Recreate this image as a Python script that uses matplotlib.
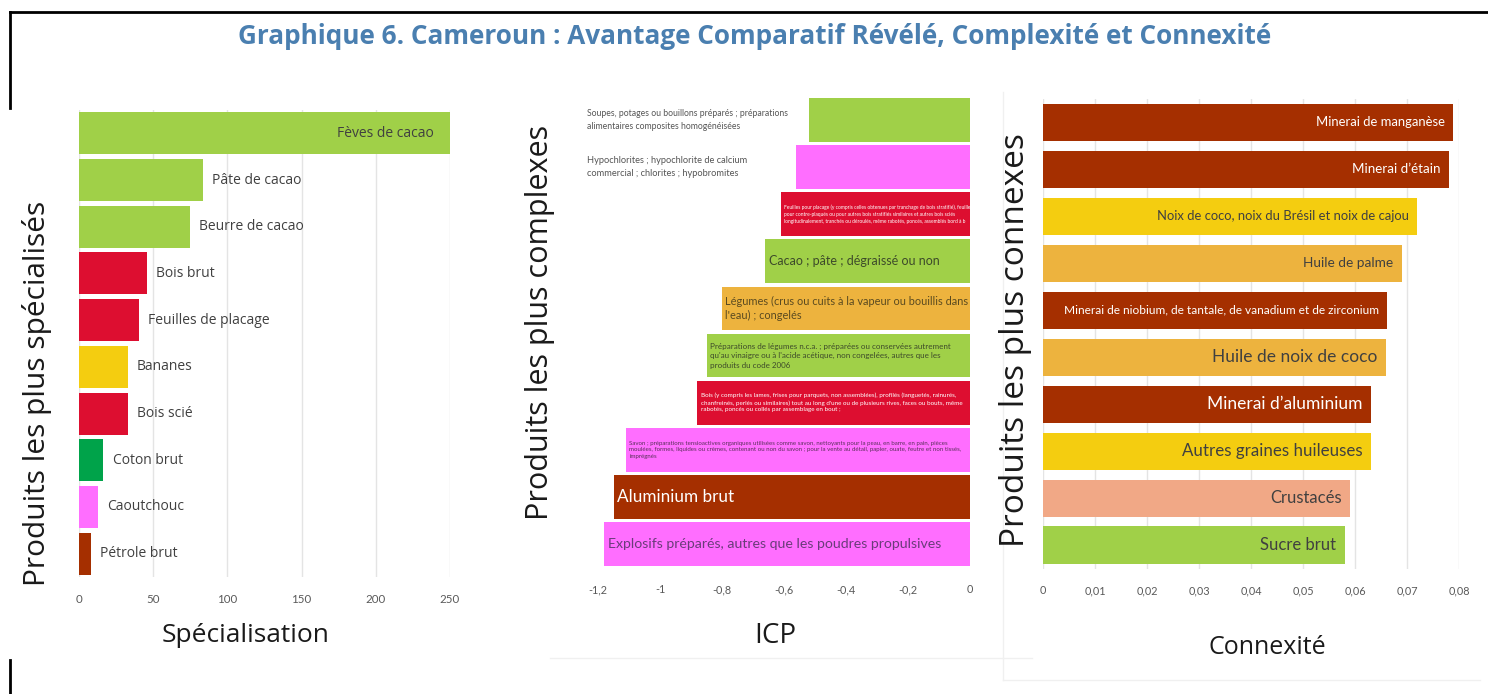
"""Cameroun: avantage comparatif révélé, complexité et connexité (three bar panels)."""

import matplotlib

matplotlib.use("Agg")  # headless
import matplotlib.pyplot as plt  # noqa: E402
from matplotlib.lines import Line2D  # noqa: E402
from matplotlib.ticker import FuncFormatter, MultipleLocator  # noqa: E402

W, H = 1488, 694

GREEN = "#A0D048"
MAGENTA = "#FF6EFF"
RED = "#DD0E30"
BROWN = "#A52F00"
YELLOW = "#F4CD10"
ORANGE = "#EDB33E"
DKGREEN = "#00A34A"
SALMON = "#F1A886"

TITLE = "Graphique 6. Cameroun : Avantage Comparatif Révélé, Complexité et Connexité"

# --- data ---------------------------------------------------------------------
spec_products = ["Fèves de cacao", "Pâte de cacao", "Beurre de cacao", "Bois brut",
                 "Feuilles de placage", "Bananes", "Bois scié", "Coton brut",
                 "Caoutchouc", "Pétrole brut"]
spec_values = [250, 83.5, 75, 46, 40.5, 33, 33, 16.5, 13, 8]
spec_colors = [GREEN, GREEN, GREEN, RED, RED, YELLOW, RED, DKGREEN, MAGENTA, BROWN]

icp_products = [
    "Soupes, potages ou bouillons préparés ; préparations\nalimentaires composites homogénéisées",
    "Hypochlorites ; hypochlorite de calcium\ncommercial ; chlorites ; hypobromites",
    "Feuilles pour placage (y compris celles obtenues par tranchage de bois stratifié), feuilles\n"
    "pour contre-plaqués ou pour autres bois stratifiés similaires et autres bois sciés\n"
    "longitudinalement, tranchés ou déroulés, même rabotés, poncés, assemblés bord à b",
    "Cacao ; pâte ; dégraissé ou non",
    "Légumes (crus ou cuits à la vapeur ou bouillis dans\nl'eau) ; congelés",
    "Préparations de légumes n.c.a. ; préparées ou conservées autrement\n"
    "qu'au vinaigre ou à l'acide acétique, non congelées, autres que les\nproduits du code 2006",
    "Bois (y compris les lames, frises pour parquets, non assemblées), profilés (languetés, rainurés,\n"
    "chanfreinés, perlés ou similaires) tout au long d'une ou de plusieurs rives, faces ou bouts, même\n"
    "rabotés, poncés ou collés par assemblage en bout ;",
    "Savon ; préparations tensioactives organiques utilisées comme savon, nettoyants pour la peau, en barre, en pain, pièces\n"
    "moulées, formes, liquides ou crèmes, contenant ou non du savon ; pour la vente au détail, papier, ouate, feutre et non tissés,\n"
    "imprégnés",
    "Aluminium brut",
    "Explosifs préparés, autres que les poudres propulsives",
]
icp_values = [-0.52, -0.56, -0.61, -0.66, -0.80, -0.85, -0.88, -1.11, -1.15, -1.18]
icp_colors = [GREEN, MAGENTA, RED, GREEN, ORANGE, GREEN, RED, MAGENTA, BROWN, MAGENTA]

conn_products = ["Minerai de manganèse", "Minerai d\u2019étain",
                 "Noix de coco, noix du Brésil et noix de cajou", "Huile de palme",
                 "Minerai de niobium, de tantale, de vanadium et de zirconium",
                 "Huile de noix de coco", "Minerai d\u2019aluminium",
                 "Autres graines huileuses", "Crustacés", "Sucre brut"]
conn_values = [0.0789, 0.0780, 0.0720, 0.0690, 0.0662, 0.0660, 0.0630, 0.0630, 0.0590, 0.0580]
conn_colors = [BROWN, BROWN, YELLOW, ORANGE, BROWN, ORANGE, BROWN, YELLOW, SALMON, GREEN]

# --- label styles (size pt, colour, where) --------------------------------------
icp_label_size = [6.2, 6.7, 3.55, 9.0, 7.9, 5.8, 4.5, 4.45, 12.3, 10.2]
icp_label_color = ["#555555", "#555555", "white", "#3d4a2a", "#5a4a20", "#3d4a2a",
                   "white", "#5a305a", "white", "#6a3c7a"]
icp_label_outside = [True, True] + [False] * 8

conn_label_size = [9.4, 9.6, 9.4, 9.8, 8.6, 12.5, 12.5, 12.2, 12.0, 12.0]
conn_label_color = ["white", "white", "#404040", "#404040", "white",
                    "#404040", "white", "#404040", "#404040", "#404040"]

FONT = ["Open Sans", "DejaVu Sans"]
BAR_FONT = ["Lato", "DejaVu Sans"]
TICK_COLOR = "#595959"


def px_axes(fig, left, top, right, bottom):
    return fig.add_axes([left / W, 1 - bottom / H, (right - left) / W, (bottom - top) / H])


def comma(x, _pos):
    return f"{round(x, 3) + 0.0:g}".replace(".", ",")


def _style(ax, grid):
    for s in ax.spines.values():
        s.set_visible(False)
    ax.tick_params(length=0, colors=TICK_COLOR, labelsize=7.8)
    ax.set_yticks([])
    ax.xaxis.set_major_formatter(FuncFormatter(comma))
    for lab in ax.get_xticklabels():
        lab.set_family(BAR_FONT)
    if grid:
        ax.grid(axis="x", color="#e4e4e4", lw=1)
        ax.set_axisbelow(True)


def fline(fig, x0, y0, x1, y1, **kw):
    fig.add_artist(Line2D([x0 / W, x1 / W], [1 - y0 / H, 1 - y1 / H], **kw))


fig = plt.figure(figsize=(W / 100, H / 100), dpi=100)
fig.patch.set_facecolor("white")

# outer frame (partly hidden behind the first panel)
fline(fig, 10, 12, W, 12, color="black", lw=2)
fline(fig, 10, 12, 10, 108, color="black", lw=2)
fline(fig, 10, 660, 10, H, color="black", lw=2)
# faint panel edges
fline(fig, 550, 658, 1032, 658, color="#f0f0f0", lw=1)
fline(fig, 1003, 92, 1003, 680, color="#f0f0f0", lw=1)
fline(fig, 1003, 680, 1480, 680, color="#f0f0f0", lw=1)

fig.text(755 / W, 1 - 36 / H, TITLE, ha="center", va="center", fontsize=18.8,
         fontweight="bold", color="#4A7FB0", family=FONT)

# --- panel 1: spécialisation --------------------------------------------------------
ax1 = px_axes(fig, 79, 110, 450, 577)
pos = range(len(spec_products))
ax1.barh(pos, spec_values, height=0.9, color=spec_colors)
ax1.set_xlim(0, 250)
ax1.set_ylim(len(spec_products) - 0.5, -0.5)
ax1.xaxis.set_major_locator(MultipleLocator(50))
_style(ax1, grid=True)
ax1.tick_params(pad=12, labelsize=8.3)
for i, (name, v) in enumerate(zip(spec_products, spec_values)):
    inside = i == 0
    ax1.annotate(name, (v, i), xytext=(-12 if inside else 6.5, 0), textcoords="offset points",
                 ha="right" if inside else "left", va="center", fontsize=10,
                 color="#404040", family=FONT)
fig.text(37 / W, 1 - 393 / H, "Produits les plus spécialisés", rotation=90, ha="center",
         va="center", fontsize=21.5, color="#1a1a1a", family=FONT)
fig.text(246 / W, 1 - 636 / H, "Spécialisation", ha="center", va="center", fontsize=19,
         color="#1a1a1a", family=FONT)

# --- panel 2: ICP ---------------------------------------------------------------------
ax2 = px_axes(fig, 598, 96.5, 970, 567.5)
pos = range(len(icp_products))
ax2.barh(pos, icp_values, height=0.93, color=icp_colors)
ax2.set_xlim(-1.2, 0)
ax2.set_ylim(len(icp_products) - 0.5, -0.5)
ax2.xaxis.set_major_locator(MultipleLocator(0.2))
_style(ax2, grid=False)
ax2.tick_params(pad=12)
for i, (name, v) in enumerate(zip(icp_products, icp_values)):
    if icp_label_outside[i]:
        ax2.annotate(name, (0, i), xycoords=("axes fraction", "data"), xytext=(-8, 0),
                     textcoords="offset points", ha="left", va="center",
                     fontsize=icp_label_size[i], color=icp_label_color[i], family=BAR_FONT,
                     linespacing=1.5)
    else:
        ax2.annotate(name, (v, i), xytext=(2.5, 0), textcoords="offset points",
                     ha="left", va="center", fontsize=icp_label_size[i],
                     color=icp_label_color[i], family=BAR_FONT, linespacing=1.4)
fig.text(540 / W, 1 - 322 / H, "Produits les plus complexes", rotation=90, ha="center",
         va="center", fontsize=22, color="#1a1a1a", family=FONT)
fig.text(775 / W, 1 - 636 / H, "ICP", ha="center", va="center", fontsize=20,
         color="#1a1a1a", family=FONT)

# --- panel 3: connexité -------------------------------------------------------------
ax3 = px_axes(fig, 1043, 99, 1459, 568.5)
pos = range(len(conn_products))
ax3.barh(pos, conn_values, height=0.79, color=conn_colors)
ax3.set_xlim(0, 0.08)
ax3.set_ylim(len(conn_products) - 0.5, -0.5)
ax3.xaxis.set_major_locator(MultipleLocator(0.01))
_style(ax3, grid=True)
ax3.tick_params(pad=12)
for i, (name, v) in enumerate(zip(conn_products, conn_values)):
    ax3.annotate(name, (v, i), xytext=(-6, 0), textcoords="offset points", ha="right",
                 va="center", fontsize=conn_label_size[i], color=conn_label_color[i],
                 family=BAR_FONT)
fig.text(1015 / W, 1 - 340 / H, "Produits les plus connexes", rotation=90, ha="center",
         va="center", fontsize=24, color="#1a1a1a", family=FONT)
fig.text(1267 / W, 1 - 647 / H, "Connexité", ha="center", va="center", fontsize=18,
         color="#1a1a1a", family=FONT)

fig.savefig("out.png", dpi=100)
